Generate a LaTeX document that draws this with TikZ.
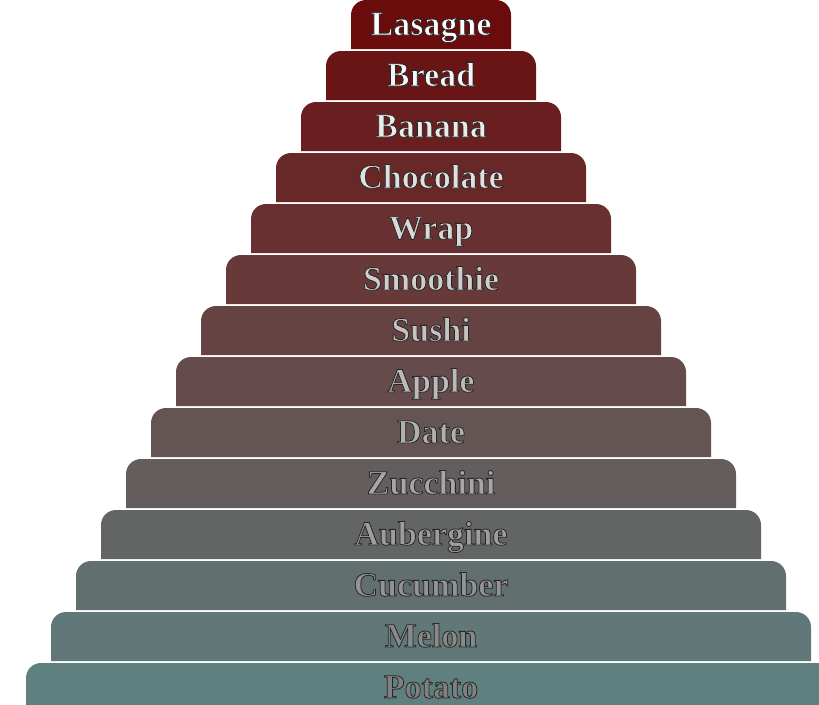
\documentclass[tikz,border=0pt]{standalone}
\usepackage{fontspec}
\setmainfont{Liberation Serif}
\usepackage{tikz}
\definecolor{topc}{RGB}{107,12,12}
\definecolor{botc}{RGB}{96,128,128}
\definecolor{lowtxt}{RGB}{128,128,128}
% filled and outlined text
\newcommand\rimtext[1]{\special{pdf:literal direct 2 Tr 0.8 w 0.15 0.15 0.15 RG}#1\special{pdf:literal direct 0 Tr}}

\begin{document}
\begin{tikzpicture}[x=1pt,y=-1pt,
  layer/.style={fill=barc},
  label/.style={text=txtc,anchor=base,font=\fontsize{34}{36}\selectfont\bfseries}]
\useasboundingbox (0,0) rectangle (819,704);
\clip (0,0) rectangle (819,704);
\foreach \name [count=\i from 0] in {Lasagne,Bread,Banana,Chocolate,Wrap,Smoothie,Sushi,Apple,Date,Zucchini,Aubergine,Cucumber,Melon,Potato}{
\pgfmathsetmacro\l{351-25*\i}
\pgfmathsetmacro\r{511+25*\i}
\pgfmathsetmacro\t{51*\i}
\pgfmathsetmacro\b{51*\i+49}
\pgfmathtruncatemacro\p{100-100*\i/13}
\colorlet{barc}{topc!\p!botc}
\colorlet{txtc}{white!\p!lowtxt}
\fill[layer] (\l,\b) [rounded corners=15] -- (\l,\t) -- (\r,\t) [sharp corners] -- (\r,\b) -- cycle;
\node[label] (n\i) at (431,\t+35) {\rimtext{\name}};
}
\end{tikzpicture}
\end{document}
